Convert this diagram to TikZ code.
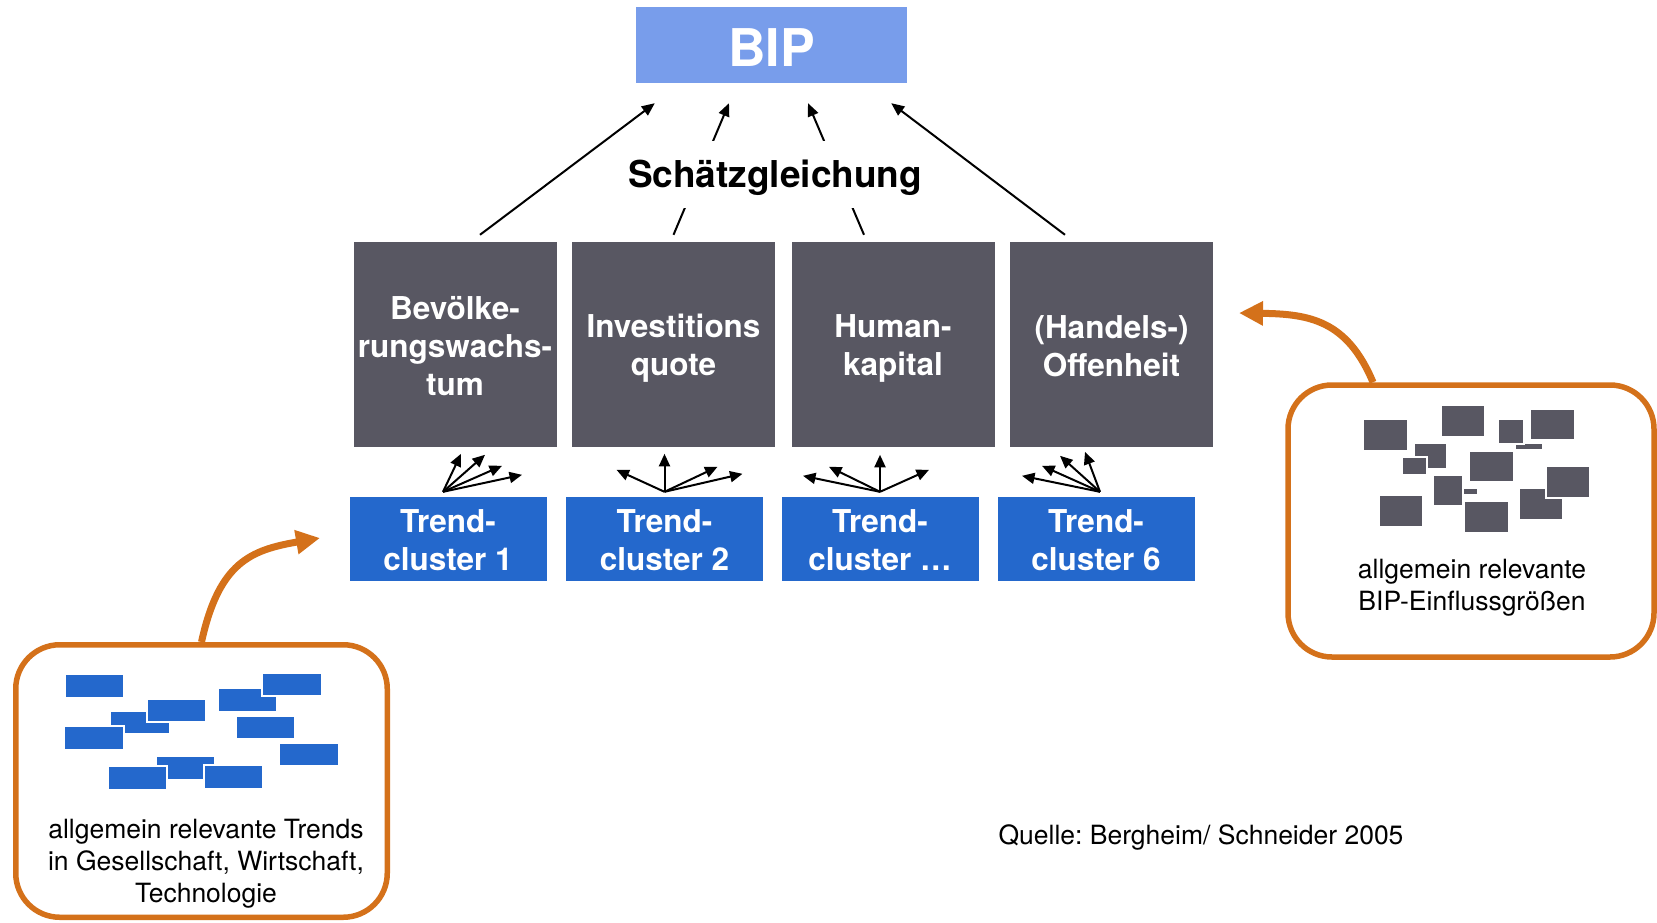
\documentclass[tikz,border=0pt]{standalone}
\usepackage{fontspec}
\setmainfont{TeX Gyre Heros}
\usepackage{xcolor}
\usepackage{tikz}
\usetikzlibrary{positioning,arrows.meta}
\definecolor{bipblue}{RGB}{120,157,235}
\definecolor{trendblue}{RGB}{36,104,204}
\definecolor{factorgray}{RGB}{88,87,98}
\definecolor{panelorange}{RGB}{212,113,26}
\newcommand{\hiline}{\rule{0pt}{30pt}}
\newcommand{\loline}{\rule[-5pt]{0pt}{5pt}}
\tikzset{
  boxtext/.style={text=white, inner sep=0pt, align=center, font=\fontsize{31.5}{38}\selectfont\bfseries},
  factor/.style={boxtext, fill=factorgray, minimum width=203pt, minimum height=205pt},
  cluster/.style={boxtext, fill=trendblue, minimum width=197pt, minimum height=84pt},
  panel/.style={draw=panelorange, line width=5.5pt, rounded corners=44pt, fill=white, inner sep=0pt},
  feed/.style={-{Triangle[length=24pt,width=23pt]}, draw=panelorange, line width=7pt},
  est/.style={-{Triangle[length=13pt,width=11pt]}, line width=2pt},
  fan/.style={-{Triangle[length=12.5pt,width=11pt]}, line width=2pt},
  caption/.style={align=center, inner sep=0pt, font=\fontsize{26.5}{32}\selectfont},
}

\begin{document}
\frenchspacing
\begin{tikzpicture}[x=1pt,y=-1pt]
\useasboundingbox (0,0) rectangle (1657,922);
\node[fill=bipblue, text=white, minimum width=271pt, minimum height=76pt, text height=43pt, text depth=0pt, font=\fontsize{52}{60}\selectfont\bfseries] (bip) at (771.5,45) {BIP};
\foreach \name/\x/\txt in {g1/455/{Bevölke-\\rungswachs-\\tum}, g2/673.5/{Investitions\\quote}, g3/893/{Human-\\kapital}, g4/1111.5/{(Handels-)\\Offenheit}}
  \node[factor] (\name) at (\x,344.5) {\hiline\txt\loline};
\foreach \name/\x/\num in {t1/448/1, t2/664.5/2, t3/880/…, t4/1096/6}
  \node[cluster] (\name) at (\x,539) {\hiline Trend-\\cluster \num\loline};
\draw[est] ([shift={(25,-7)}]g1.north) -- ([shift={(19,20)}]bip.south west);
\draw[est] ([shift={(0,-7)}]g2.north) -- ([shift={(-42.5,20)}]bip.south);
\draw[est] ([shift={(-29,-7)}]g3.north) -- ([shift={(36.5,20)}]bip.south);
\draw[est] ([shift={(-46.5,-7)}]g4.north) -- ([shift={(-16,20)}]bip.south east);
\node[fill=white, inner sep=4pt, text height=42.7pt, text depth=16.3pt, font=\fontsize{37}{44}\selectfont\bfseries] (eq) at (775,174.5) {Schätzgleichung};
\coordinate (f1) at ([shift={(-5,-5)}]t1.north);
\coordinate (f2) at ([shift={(0,-5)}]t2.north);
\coordinate (f3) at ([shift={(0,-5)}]t3.north);
\coordinate (f4) at ([shift={(4,-5)}]t4.north);
\foreach \dx/\dy in {18/-38, 42/-37, 59/-26, 79/-17}
  \draw[fan] (f1) -- ++(\dx,\dy);
\foreach \dx/\dy in {-48/-22, 0/-38, 53/-25, 78/-18}
  \draw[fan] (f2) -- ++(\dx,\dy);
\foreach \dx/\dy in {-77/-16, -51/-25, 0/-37, 49/-22}
  \draw[fan] (f3) -- ++(\dx,\dy);
\foreach \dx/\dy in {-78/-16, -58/-26, -40/-36, -15/-40}
  \draw[fan] (f4) -- ++(\dx,\dy);
\node[panel, minimum width=371.5pt, minimum height=272.5pt] (trends) at (201.5,781) {};
\node[panel, minimum width=366pt, minimum height=272pt] (infopanel) at (1471,521) {};
\foreach \a/\b/\c/\d in {110/711/170/734, 156/756/215/780, 65/674/124/698, 147/699/206/722, 64/726/124/750, 218/688/277/712, 262/673/322/696, 236/716/295/739, 279/743/339/766, 108/766/167/790, 204/765/263/789}
  \filldraw[fill=trendblue, draw=white, line width=1.2pt] (\a,\b) rectangle (\c,\d);
\foreach \a/\b/\c/\d in {1363/419/1408/451, 1441/405/1485/437, 1515/443/1543/450, 1498/419/1524/444, 1530/409/1575/440, 1414/443/1447/469, 1402/457/1427/475, 1469/451/1514/482, 1455/488/1478/495, 1433/475/1463/506, 1379/495/1423/527, 1464/501/1509/533, 1519/488/1563/520, 1546/466/1590/498}
  \filldraw[fill=factorgray, draw=white, line width=1.2pt] (\a,\b) rectangle (\c,\d);
\node[caption] (trendtext) at (206,864) {allgemein relevante Trends\\in Gesellschaft, Wirtschaft,\\Technologie};
\node[caption] (infotext) at (1472,588) {allgemein relevante\\BIP-Einflussgrößen};
\coordinate (trendtip) at (320,538);
\draw[feed] (trends.north) .. controls (219,562) and (251,550) .. (trendtip);
\coordinate (infotip) at (1239,313);
\draw[feed] ([xshift=-98pt]infopanel.north) .. controls (1347,320) and (1309,314) .. (infotip);
\node[caption] (source) at (1201,837) {Quelle: Bergheim/ Schneider 2005};
\end{tikzpicture}
\end{document}
